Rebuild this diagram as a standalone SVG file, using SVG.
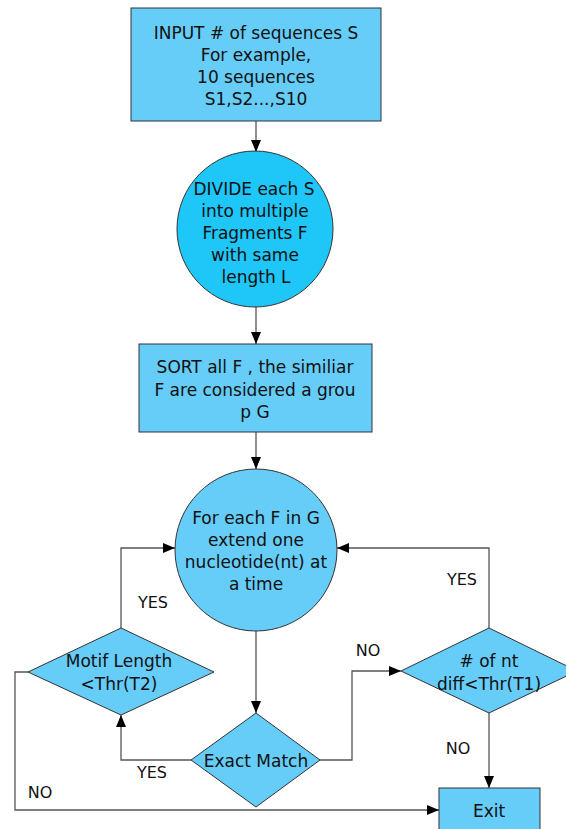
<svg xmlns="http://www.w3.org/2000/svg" width="566" height="829" viewBox="0 0 566 829">
<defs>
<style>
.n{fill:#66ccf8;stroke:#333;stroke-width:1}
.c2{fill:#1fc6f8;stroke:#333;stroke-width:1}
.t{font-family:"DejaVu Sans",sans-serif;font-size:17px;fill:#111;text-anchor:middle}
.l{font-family:"DejaVu Sans",sans-serif;font-size:16px;fill:#111;text-anchor:middle}
.e{fill:none;stroke:#555;stroke-width:1.3}
</style>
<marker id="a" viewBox="0 0 12 10" refX="12" refY="5" markerWidth="12" markerHeight="10" markerUnits="userSpaceOnUse" orient="auto">
<path d="M0,0 L12,5 L0,10 Z" fill="#000"/>
</marker>
</defs>
<rect width="566" height="829" fill="#fff"/>
<g id="edges">
<path class="e" d="M256,121 V152" marker-end="url(#a)"/>
<path class="e" d="M256,307 V344" marker-end="url(#a)"/>
<path class="e" d="M256,432 V469" marker-end="url(#a)"/>
<path class="e" d="M256,631 V713" marker-end="url(#a)"/>
<path class="e" d="M191,760 H121 V715" marker-end="url(#a)"/>
<path class="e" d="M320,760 H352 V671 H401" marker-end="url(#a)"/>
<path class="e" d="M489,713 V788" marker-end="url(#a)"/>
<path class="e" d="M28,672 H15 V810 H439" marker-end="url(#a)"/>
<path class="e" d="M121,628 V548 H175" marker-end="url(#a)"/>
<path class="e" d="M489,628 V548 H337" marker-end="url(#a)"/>
<text class="l" x="153" y="608">YES</text>
<text class="l" x="462" y="585">YES</text>
<text class="l" x="152" y="778">YES</text>
<text class="l" x="368" y="656">NO</text>
<text class="l" x="458" y="754">NO</text>
<text class="l" x="40" y="798">NO</text>
</g>
<g id="input">
<rect class="n" x="131" y="8" width="250" height="113"/>
<text class="t" x="256" y="39">INPUT # of sequences S</text>
<text class="t" x="256" y="61">For example,</text>
<text class="t" x="256" y="83">10 sequences</text>
<text class="t" x="256" y="105">S1,S2...,S10</text>
</g>
<g id="divide">
<circle class="c2" cx="255" cy="229" r="78"/>
<text class="t" x="254" y="195">DIVIDE each S</text>
<text class="t" x="255" y="217">into multiple</text>
<text class="t" x="255" y="239">Fragments F</text>
<text class="t" x="255" y="261">with same</text>
<text class="t" x="256" y="283">length L</text>
</g>
<g id="sort">
<rect class="n" x="139" y="344" width="233" height="88"/>
<text class="t" x="255" y="373">SORT all F , the similiar</text>
<text class="t" x="255" y="396">F are considered a grou</text>
<text class="t" x="255" y="418">p G</text>
</g>
<g id="extend">
<circle class="n" cx="256" cy="550" r="81"/>
<text class="t" x="256" y="524">For each F in G</text>
<text class="t" x="256" y="546">extend one</text>
<text class="t" x="256" y="568">nucleotide(nt) at</text>
<text class="t" x="256" y="590">a time</text>
</g>
<g id="motif">
<polygon class="n" points="121,628 214,672 121,715 28,672"/>
<text class="t" x="119" y="667">Motif Length</text>
<text class="t" x="119" y="690">&lt;Thr(T2)</text>
</g>
<g id="ntdiff">
<polygon class="n" points="489,628 577,671 489,713 401,671"/>
<text class="t" x="489" y="667"># of nt</text>
<text class="t" x="489" y="690">diff&lt;Thr(T1)</text>
</g>
<g id="exact">
<polygon class="n" points="256,713 320,760 256,807 191,760"/>
<text class="t" x="256" y="767">Exact Match</text>
</g>
<g id="exit">
<rect class="n" x="439" y="788" width="101" height="50"/>
<text class="t" x="489" y="817">Exit</text>
</g>
</svg>
